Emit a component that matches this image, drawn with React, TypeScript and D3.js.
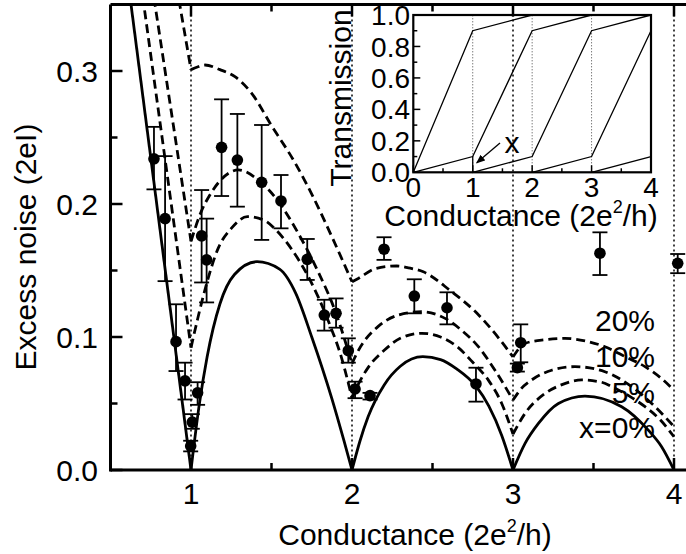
import React from 'react';
import * as d3 from 'd3';

const W = 686;
const H = 554;

// Model curves for channel mixing x: [conductance (2e^2/h), excess noise (2eI)]
const theory0: [number, number][] = [
  [0.62, 0.357], [1, 0],
  [1.05, 0.048], [1.1, 0.085], [1.18, 0.125], [1.27, 0.147], [1.41, 0.1566], [1.55, 0.151], [1.65, 0.133], [1.75, 0.1], [1.874, 0.054], [1.95, 0.022], [2, 0],
  [2.05, 0.022], [2.1, 0.04], [2.2, 0.064], [2.3, 0.078], [2.44, 0.0852], [2.55, 0.083], [2.65, 0.076], [2.77, 0.063], [2.85, 0.048], [2.93, 0.026], [3, 0],
  [3.075, 0.02], [3.158, 0.035], [3.282, 0.05], [3.447, 0.0556], [3.675, 0.0476], [3.84, 0.03], [3.923, 0.0175], [4, 0],
];
const theory5: [number, number][] = [
  [0.7, 0.356], [1, 0.092],
  [1.04, 0.113], [1.09, 0.137], [1.17, 0.167], [1.253, 0.182], [1.35, 0.1905], [1.45, 0.188], [1.532, 0.18], [1.625, 0.166], [1.739, 0.143], [1.853, 0.112], [1.936, 0.084], [2, 0.054],
  [2.05, 0.067], [2.1, 0.077], [2.2, 0.09], [2.3, 0.099], [2.433, 0.1028], [2.55, 0.1], [2.65, 0.093], [2.75, 0.081], [2.85, 0.067], [2.93, 0.05], [3, 0.027],
  [3.075, 0.0426], [3.2, 0.0576], [3.3, 0.064], [3.427, 0.0677], [3.55, 0.066], [3.634, 0.0614], [3.73, 0.055], [3.82, 0.0476], [3.92, 0.037], [4, 0.025],
];
const theory10: [number, number][] = [
  [0.77, 0.355], [1, 0.172],
  [1.066, 0.195], [1.118, 0.207], [1.17, 0.216], [1.294, 0.2256], [1.418, 0.218], [1.542, 0.202], [1.666, 0.178], [1.79, 0.149], [1.894, 0.12], [2, 0.08],
  [2.04, 0.09], [2.081, 0.0977], [2.163, 0.108], [2.288, 0.1165], [2.433, 0.119], [2.578, 0.114], [2.681, 0.105], [2.785, 0.0927], [2.888, 0.075], [3, 0.0526],
  [3.05, 0.061], [3.116, 0.0677], [3.24, 0.075], [3.385, 0.0777], [3.571, 0.0739], [3.737, 0.0627], [3.882, 0.0476], [4, 0.0326],
];
const theory20: [number, number][] = [
  [0.925, 0.3535], [1, 0.301],
  [1.04, 0.303], [1.087, 0.3045], [1.18, 0.301], [1.273, 0.2957], [1.377, 0.2832], [1.5, 0.259], [1.646, 0.231], [1.76, 0.205], [1.884, 0.173], [2, 0.1415],
  [2.039, 0.144], [2.15, 0.1516], [2.278, 0.1534], [2.35, 0.152], [2.443, 0.149], [2.609, 0.135], [2.775, 0.118], [2.919, 0.098], [3, 0.085],
  [3.075, 0.0952], [3.2, 0.098], [3.323, 0.099], [3.45, 0.097], [3.571, 0.0927], [3.7, 0.085], [3.82, 0.0777], [3.92, 0.069], [4, 0.06],
];

// Measured excess noise with error bars
const measG = [0.77, 0.839, 0.907, 0.963, 0.998, 1.008, 1.041, 1.066, 1.097, 1.19, 1.288, 1.439, 1.559, 1.722, 1.828, 1.901, 1.977, 2.019, 2.112, 2.199, 2.387, 2.59, 2.77, 3.027, 3.048, 3.54, 4.023];
const measNoise = [0.234, 0.189, 0.0965, 0.067, 0.018, 0.036, 0.058, 0.176, 0.158, 0.2426, 0.233, 0.2163, 0.2023, 0.1584, 0.1165, 0.1178, 0.0897, 0.0609, 0.0559, 0.166, 0.1308, 0.122, 0.0647, 0.0769, 0.0957, 0.163, 0.1554];
const measHigh = [0.258, 0.236, 0.1246, 0.0807, 0.022, 0.042, 0.066, 0.2105, 0.189, 0.2787, 0.2677, 0.2594, 0.2218, 0.1737, 0.128, 0.129, 0.099, 0.0664, 0.058, 0.175, 0.1434, 0.1336, 0.0769, 0.08, 0.1095, 0.1787, 0.1624];
const measLow = [0.211, 0.142, 0.0744, 0.053, 0.014, 0.031, 0.049, 0.141, 0.126, 0.206, 0.198, 0.173, 0.1817, 0.1429, 0.1048, 0.107, 0.0807, 0.054, 0.053, 0.158, 0.1178, 0.1095, 0.0514, 0.074, 0.081, 0.1466, 0.148];

const xMajor = [1, 2, 3, 4];
const xMinor = [1.5, 2.5, 3.5];
const yMajor = [0, 0.1, 0.2, 0.3];
const yMinor = [0.05, 0.15, 0.25];
const plateaus = [1, 2, 3, 4];
const curveNames = ['20%', '10%', '5%', 'x=0%'];

// Inset: channel transmissions vs conductance for x = 10%
const channels: [number, number][][] = [
  [[0, 0], [1, 0.9], [2, 1]],
  [[0, 0], [1, 0.1], [2, 0.9], [3, 1]],
  [[1, 0.1], [1, 0], [2, 0.1], [3, 0.9], [4, 1]],
  [[2, 0], [3, 0.1], [4, 0.9]],
  [[3, 0], [4, 0.1]],
];
const insetXTicks = [0, 1, 2, 3, 4];
const insetXMinor = [0.5, 1.5, 2.5, 3.5];
const insetYTicks = [0, 0.2, 0.4, 0.6, 0.8, 1.0];
const insetYMinor = [0.1, 0.3, 0.5, 0.7, 0.9];
const insetGuides = [1, 2, 3];

const FONT = "'Liberation Sans', Arial, Helvetica, sans-serif";

function splitAtIntegers(pts: [number, number][]) {
  const segs: [number, number][][] = [];
  let cur: [number, number][] = [pts[0]];
  for (let i = 1; i < pts.length; i++) {
    cur.push(pts[i]);
    if (Number.isInteger(pts[i][0]) && i < pts.length - 1) {
      segs.push(cur);
      cur = [pts[i]];
    }
  }
  segs.push(cur);
  return segs;
}

export default function App() {
  const x = d3.scaleLinear().domain([0.5, 4.1]).range([110.5, 690.1]);
  const y = d3.scaleLinear().domain([0, 0.35]).range([470, 4.5]);
  const line = d3.line<[number, number]>().x(d => x(d[0])).y(d => y(d[1])).curve(d3.curveMonotoneX);

  const ix = d3.scaleLinear().domain([0, 4]).range([413.3, 651]);
  const iy = d3.scaleLinear().domain([0, 1]).range([172.3, 15]);
  const iline = d3.line<[number, number]>().x(d => ix(d[0])).y(d => iy(d[1]));

  const curves = [
    { data: theory0, dash: undefined },
    { data: theory5, dash: '9,5' },
    { data: theory10, dash: '9,5' },
    { data: theory20, dash: '9,5' },
  ];

  const labelY = [331, 367, 403, 438];

  return (
    <svg width={W} height={H} style={{ position: 'absolute', left: 0, top: 0, background: '#fff' }} fontFamily={FONT}>
      <defs>
        <clipPath id="plotClip">
          <rect x={x(0.5)} y={y(0.35)} width={x(4.1) - x(0.5)} height={y(0) - y(0.35)} />
        </clipPath>
        <marker id="arrowHead" viewBox="0 0 10 10" refX="9" refY="5" markerWidth="7" markerHeight="7" orient="auto">
          <path d="M0,1 L10,5 L0,9 z" fill="#000" />
        </marker>
      </defs>

      {/* plateau guides */}
      {plateaus.map(p => (
        <line key={'p' + p} x1={x(p)} x2={x(p)} y1={y(0.35)} y2={y(0)} stroke="#000" strokeWidth={1.5} strokeDasharray="2,3" />
      ))}

      {/* model curves */}
      <g clipPath="url(#plotClip)">
        {curves.map((c, ci) =>
          splitAtIntegers(c.data).map((seg, si) => (
            <path key={ci + '-' + si} d={line(seg) || ''} fill="none" stroke="#000" strokeWidth={2.8} strokeDasharray={c.dash} />
          ))
        )}
      </g>

      {/* measured points */}
      {measG.map((g, i) => (
        <g key={'m' + i}>
          <line x1={x(g)} x2={x(g)} y1={y(measHigh[i])} y2={y(measLow[i])} stroke="#000" strokeWidth={1.8} />
          <line x1={x(g) - 7.5} x2={x(g) + 7.5} y1={y(measHigh[i])} y2={y(measHigh[i])} stroke="#000" strokeWidth={1.8} />
          <line x1={x(g) - 7.5} x2={x(g) + 7.5} y1={y(measLow[i])} y2={y(measLow[i])} stroke="#000" strokeWidth={1.8} />
          <circle cx={x(g)} cy={y(measNoise[i])} r={5.8} fill="#000" />
        </g>
      ))}

      {/* frame and ticks */}
      <g stroke="#000" strokeWidth={3} fill="none">
        <line x1={x(0.5)} x2={x(0.5)} y1={y(0.35)} y2={y(0) + 1.5} />
        <line x1={x(0.5)} x2={W + 10} y1={y(0)} y2={y(0)} />
        <line x1={x(0.5)} x2={W + 10} y1={y(0.35)} y2={y(0.35)} />
      </g>
      <g stroke="#000" strokeWidth={2.5}>
        {xMajor.map(t => (
          <g key={'xM' + t}>
            <line x1={x(t)} x2={x(t)} y1={y(0)} y2={y(0) - 12} />
            <line x1={x(t)} x2={x(t)} y1={y(0.35)} y2={y(0.35) + 12} />
          </g>
        ))}
        {xMinor.map(t => (
          <g key={'xm' + t}>
            <line x1={x(t)} x2={x(t)} y1={y(0)} y2={y(0) - 7} />
            <line x1={x(t)} x2={x(t)} y1={y(0.35)} y2={y(0.35) + 7} />
          </g>
        ))}
        {yMajor.map(t => (
          <line key={'yM' + t} x1={x(0.5)} x2={x(0.5) + 12} y1={y(t)} y2={y(t)} />
        ))}
        {yMinor.map(t => (
          <line key={'ym' + t} x1={x(0.5)} x2={x(0.5) + 7} y1={y(t)} y2={y(t)} />
        ))}
      </g>

      {/* tick labels */}
      <g fontSize={30} fill="#000">
        {yMajor.map(t => (
          <text key={'yl' + t} x={98} y={y(t)} dy="0.36em" textAnchor="end">{d3.format('.1f')(t)}</text>
        ))}
        {xMajor.map(t => (
          <text key={'xl' + t} x={x(t)} y={504} textAnchor="middle">{t}</text>
        ))}
      </g>

      {/* axis titles */}
      <text x={415} y={545} fontSize={30} textAnchor="middle">
        Conductance (2e<tspan fontSize={18} dy={-13}>2</tspan><tspan dy={13}>/h)</tspan>
      </text>
      <text transform="translate(36,247) rotate(-90)" fontSize={30} textAnchor="middle">Excess noise (2eI)</text>

      {/* curve labels */}
      {curveNames.map((n, i) => (
        <text key={n} x={655} y={labelY[i]} fontSize={30} textAnchor="end">{n}</text>
      ))}

      {/* inset */}
      <g>
        {insetGuides.map(g => (
          <line key={'ig' + g} x1={ix(g)} x2={ix(g)} y1={iy(0)} y2={iy(1)} stroke="#444" strokeWidth={1} strokeDasharray="1,2" />
        ))}
        {channels.map((c, i) => (
          <path key={'ch' + i} d={iline(c) || ''} fill="none" stroke="#000" strokeWidth={1.3} />
        ))}
        <rect x={ix(0)} y={iy(1)} width={ix(4) - ix(0)} height={iy(0) - iy(1)} fill="none" stroke="#000" strokeWidth={2.2} />
        <g stroke="#000" strokeWidth={1.5}>
          {insetXTicks.map(t => (
            <line key={'ixt' + t} x1={ix(t)} x2={ix(t)} y1={iy(0)} y2={iy(0) - 7} />
          ))}
          {insetXMinor.map(t => (
            <line key={'ixm' + t} x1={ix(t)} x2={ix(t)} y1={iy(0)} y2={iy(0) - 4} />
          ))}
          {insetYTicks.map(t => (
            <line key={'iyt' + t} x1={ix(0)} x2={ix(0) + 7} y1={iy(t)} y2={iy(t)} />
          ))}
          {insetYMinor.map(t => (
            <line key={'iym' + t} x1={ix(0)} x2={ix(0) + 4} y1={iy(t)} y2={iy(t)} />
          ))}
        </g>
        <g fontSize={28} fill="#000">
          {insetYTicks.map(t => (
            <text key={'iyl' + t} x={410} y={iy(t)} dy="0.36em" textAnchor="end">{d3.format('.1f')(t)}</text>
          ))}
          {insetXTicks.map(t => (
            <text key={'ixl' + t} x={ix(t)} y={197} textAnchor="middle">{t}</text>
          ))}
        </g>
        <text x={521} y={226} fontSize={30} textAnchor="middle">
          Conductance (2e<tspan fontSize={18} dy={-13}>2</tspan><tspan dy={13}>/h)</tspan>
        </text>
        <text transform="translate(351,98) rotate(-90)" fontSize={30} textAnchor="middle">Transmission</text>
        <line x1={500} y1={143} x2={ix(1) + 4} y2={iy(0.06)} stroke="#000" strokeWidth={1.3} markerEnd="url(#arrowHead)" />
        <text x={512} y={153} fontSize={30} textAnchor="middle">x</text>
      </g>
    </svg>
  );
}
